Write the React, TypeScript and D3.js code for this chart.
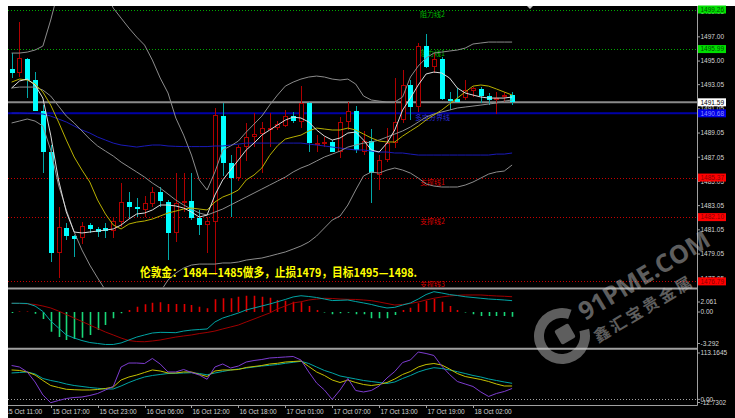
import React, { useEffect, useRef } from "react";
import * as d3 from "d3";

const WIDTH = 735;
const HEIGHT = 418;

// hourly gold bars, first visible bar is 15 Oct 12:00
const opens = [
  1494.31, 1493.98, 1495.17, 1493.43, 1490.89, 1487.5, 1479.16, 1481.22, 1480.54, 1480.35,
  1481.42, 1481.12, 1481.17, 1480.95, 1481.72, 1483.37, 1482.96, 1482.69, 1483.18, 1484.15,
  1483.37, 1480.76, 1483.24, 1483.43, 1482.0, 1481.45, 1481.72, 1490.45, 1486.6, 1485.31,
  1487.87, 1488.74, 1488.97, 1489.36, 1489.44, 1489.65, 1490.48, 1489.98, 1491.55, 1488.14,
  1488.22, 1488.28, 1487.5, 1489.98, 1490.87, 1487.5, 1488.39, 1485.58, 1486.82, 1488.2,
  1490.12, 1493.02, 1491.22, 1496.24, 1494.53, 1495.14, 1491.86, 1491.84, 1491.92, 1492.55,
  1492.69, 1492.13, 1491.78, 1492.0, 1492.19,
];
const highs = [
  1495.69, 1498.25, 1495.25, 1494.12, 1491.36, 1488.06, 1482.96, 1481.61, 1480.62, 1481.72,
  1481.64, 1481.31, 1481.61, 1482.13, 1484.89, 1484.2, 1483.68, 1483.84, 1484.61, 1484.61,
  1483.51, 1485.72, 1485.72, 1485.72, 1482.69, 1482.13, 1491.09, 1491.5, 1487.2, 1488.06,
  1489.85, 1490.68, 1489.98, 1490.68, 1490.04, 1490.95, 1490.81, 1492.93, 1491.64, 1488.88,
  1488.74, 1488.47, 1490.4, 1491.64, 1491.28, 1489.22, 1489.36, 1487.23, 1489.44, 1493.57,
  1494.26, 1493.43, 1496.46, 1497.23, 1495.64, 1495.36, 1492.46, 1492.74, 1493.43, 1492.88,
  1492.88, 1492.33, 1492.46, 1492.46, 1492.46,
];
const lows = [
  1493.6, 1493.7, 1491.94, 1490.85, 1485.77, 1478.41, 1477.04, 1480.21, 1478.83, 1479.88,
  1480.76, 1480.48, 1480.35, 1480.35, 1481.31, 1482.0, 1482.13, 1482.13, 1482.96, 1482.96,
  1478.55, 1480.07, 1482.55, 1481.86, 1480.62, 1479.11, 1477.3, 1485.5, 1482.13, 1485.1,
  1486.7, 1487.87, 1485.72, 1487.92, 1489.3, 1489.57, 1489.85, 1489.44, 1487.5, 1487.5,
  1487.92, 1487.45, 1486.96, 1489.3, 1487.42, 1487.23, 1483.24, 1484.34, 1486.68, 1487.79,
  1489.85, 1490.12, 1490.81, 1494.4, 1493.98, 1491.78, 1490.95, 1491.6, 1491.78, 1492.05,
  1491.5, 1491.36, 1490.6, 1491.64, 1491.36,
];
const closes = [
  1493.98, 1495.22, 1493.43, 1490.89, 1487.5, 1479.11, 1481.26, 1480.54, 1480.29, 1481.36,
  1481.12, 1480.84, 1480.95, 1481.78, 1483.37, 1482.96, 1482.74, 1483.24, 1484.15, 1483.45,
  1480.76, 1483.29, 1483.43, 1482.0, 1481.45, 1481.8, 1490.54, 1486.6, 1485.31, 1487.87,
  1488.74, 1488.97, 1489.44, 1489.49, 1489.77, 1490.48, 1490.04, 1491.55, 1488.25, 1488.25,
  1488.33, 1487.5, 1489.98, 1490.89, 1487.65, 1488.39, 1485.72, 1486.82, 1488.2, 1489.98,
  1493.02, 1491.22, 1496.24, 1494.53, 1495.17, 1491.86, 1491.72, 1491.64, 1492.6, 1492.74,
  1492.13, 1491.78, 1491.92, 1492.19, 1491.59,
];

// bollinger bands (gray)
const bbUpper = [
  1495.66, 1495.66, 1495.74, 1495.91, 1496.24, 1498.39, 1500.87, 1502.52, 1503.35, 1503.35,
  1502.93, 1502.11, 1500.7, 1499.38, 1498.55, 1497.73, 1496.98, 1496.32, 1495.08, 1493.6,
  1492.36, 1490.29, 1488.88, 1487.23, 1485.17, 1484.34, 1485.83, 1487.65, 1487.98, 1488.39,
  1489.13, 1489.79, 1490.45, 1491.36, 1492.19, 1492.93, 1493.26, 1493.51, 1493.68, 1493.76,
  1493.68, 1493.51, 1493.43, 1493.51, 1493.1, 1492.11, 1491.78, 1491.69, 1491.61, 1491.61,
  1492.03, 1493.68, 1494.59, 1495.25, 1495.66, 1495.74, 1495.83, 1495.91, 1496.07, 1496.41,
  1496.49, 1496.57, 1496.57, 1496.57, 1496.57,
];
const bbMiddle = [
  1492.77, 1492.85, 1492.85, 1492.85, 1492.6, 1492.11, 1491.28, 1490.45, 1489.88, 1489.22,
  1488.55, 1487.98, 1487.56, 1487.15, 1486.65, 1486.24, 1485.83, 1485.41, 1484.92, 1484.5,
  1484.01, 1483.51, 1483.1, 1482.77, 1482.44, 1482.27, 1482.52, 1482.77, 1483.1, 1483.43,
  1483.76, 1484.09, 1484.42, 1484.75, 1485.08, 1485.41, 1485.83, 1486.16, 1486.41, 1486.74,
  1487.07, 1487.31, 1487.56, 1487.89, 1488.06, 1488.22, 1488.31, 1488.47, 1488.72, 1488.97,
  1489.22, 1489.55, 1489.96, 1490.37, 1490.62, 1490.79, 1490.95, 1491.12, 1491.2, 1491.28,
  1491.36, 1491.45, 1491.53, 1491.69, 1491.78,
];
const bbLower = [
  1489.88, 1490.04, 1490.21, 1490.04, 1489.63, 1487.65, 1484.75, 1482.69, 1480.87, 1479.38,
  1478.14, 1477.07, 1476.07, 1475.25, 1474.59, 1474.26, 1474.17, 1474.42, 1475.0, 1475.91,
  1476.9, 1477.48, 1477.89, 1478.14, 1478.22, 1478.22, 1478.22, 1478.31, 1478.31, 1478.39,
  1478.55, 1478.64, 1478.72, 1478.88, 1479.05, 1479.22, 1479.46, 1479.71, 1480.04, 1480.54,
  1481.2, 1481.86, 1482.19, 1483.1, 1484.34, 1485.5, 1485.83, 1485.74, 1485.99, 1486.16,
  1485.99, 1485.74, 1485.33, 1484.84, 1484.67, 1484.59, 1484.59, 1484.59, 1484.75, 1485.0,
  1485.33, 1485.66, 1485.83, 1485.91, 1486.41,
];
// moving averages
const maFast = [
  1492.77, 1493.35, 1493.51, 1493.02, 1491.94, 1488.88, 1485.17, 1482.52, 1480.87, 1480.79,
  1480.87, 1480.95, 1481.03, 1481.12, 1481.45, 1481.94, 1482.36, 1482.44, 1482.69, 1483.1,
  1483.1, 1483.02, 1482.85, 1482.52, 1482.11, 1482.27, 1483.93, 1485.17, 1485.99, 1486.82,
  1487.65, 1488.22, 1488.88, 1489.3, 1489.71, 1490.12, 1490.37, 1490.29, 1489.96, 1489.3,
  1488.8, 1488.47, 1488.64, 1489.05, 1489.13, 1488.47, 1487.65, 1487.48, 1488.22, 1489.3,
  1490.95, 1491.94, 1493.02, 1493.93, 1494.09, 1494.01, 1493.6, 1492.77, 1492.36, 1492.19,
  1492.03, 1491.94, 1491.94, 1491.94, 1492.03,
];
const maSlow = [
  1493.26, 1493.51, 1493.43, 1493.1, 1492.44, 1491.36, 1489.96, 1488.47, 1487.07, 1485.99,
  1485.0, 1483.51, 1482.36, 1481.45, 1481.12, 1481.53, 1481.69, 1481.78, 1481.94, 1482.19,
  1482.44, 1482.6, 1482.77, 1482.85, 1482.77, 1482.69, 1483.35, 1483.76, 1484.01, 1484.34,
  1485.17, 1485.58, 1486.16, 1487.2, 1488.0, 1488.55, 1488.72, 1488.88, 1489.22, 1489.46,
  1489.38, 1489.3, 1489.3, 1489.46, 1489.3, 1488.97, 1488.64, 1488.39, 1488.31, 1488.31,
  1488.8, 1489.22, 1489.63, 1490.12, 1490.54, 1490.95, 1491.45, 1491.94, 1492.44, 1492.93,
  1493.02, 1492.93, 1492.69, 1492.44, 1492.19,
];
const maLong = [
  1490.7, 1490.7, 1490.68, 1490.66, 1490.62, 1490.45, 1490.21, 1489.96, 1489.63, 1489.3,
  1489.05, 1488.72, 1488.47, 1488.22, 1488.06, 1487.98, 1487.89, 1487.98, 1488.06, 1488.06,
  1487.98, 1487.95, 1487.93, 1487.93, 1487.93, 1487.93, 1487.98, 1487.98, 1488.06, 1488.14,
  1488.22, 1488.22, 1488.22, 1488.22, 1488.22, 1488.22, 1488.22, 1488.22, 1488.14, 1488.06,
  1487.98, 1487.89, 1487.81, 1487.73, 1487.65, 1487.65, 1487.56, 1487.48, 1487.48, 1487.4,
  1487.4, 1487.31, 1487.23, 1487.23, 1487.23, 1487.23, 1487.23, 1487.23, 1487.23, 1487.23,
  1487.23, 1487.23, 1487.31, 1487.31, 1487.4,
];

// MACD
const macdHist = [
  -0.1, 0.05, 0.05, -0.15, -0.64, -1.8, -2.29, -2.56, -2.47, -2.35,
  -2.1, -1.65, -1.19, -0.57, -0.12, 0.19, 0.49, 0.71, 0.85, 0.89,
  0.73, 0.73, 0.73, 0.64, 0.49, 0.34, 1.16, 1.26, 1.26, 1.4,
  1.49, 1.49, 1.4, 1.31, 1.1, 1.04, 0.95, 0.89, 0.55, 0.19,
  -0.04, -0.21, -0.12, -0.06, -0.21, -0.21, -0.57, -0.57, -0.57, -0.27,
  0.19, 0.4, 0.8, 1.04, 1.19, 0.95, 0.55, 0.19, -0.04, -0.21,
  -0.36, -0.36, -0.36, -0.36, -0.43,
];
const macdMain = [
  0.8, 0.8, 0.78, 0.55, 0.05, -0.82, -1.46, -2.1, -2.38, -2.61,
  -2.79, -2.88, -2.97, -2.97, -2.83, -2.56, -2.29, -2.1, -1.92, -1.86,
  -1.87, -1.89, -1.74, -1.65, -1.6, -1.55, -0.91, -0.55, -0.32, -0.09,
  0.19, 0.37, 0.55, 0.73, 0.94, 1.15, 1.38, 1.49, 1.42, 1.33,
  1.19, 1.05, 1.07, 1.1, 0.96, 0.83, 0.69, 0.51, 0.37, 0.43,
  0.64, 0.83, 1.19, 1.6, 1.86, 1.74, 1.6, 1.51, 1.4, 1.33,
  1.26, 1.19, 1.15, 1.1, 1.04,
];
const macdSignal = [
  0.8, 0.78, 0.75, 0.69, 0.55, 0.37, 0.09, -0.23, -0.55, -0.87,
  -1.19, -1.51, -1.83, -2.1, -2.38, -2.61, -2.7, -2.72, -2.65, -2.56,
  -2.42, -2.29, -2.19, -2.1, -1.97, -1.87, -1.74, -1.55, -1.37, -1.19,
  -0.91, -0.64, -0.36, -0.09, 0.28, 0.55, 0.83, 0.94, 1.1, 1.19,
  1.26, 1.24, 1.19, 1.16, 1.15, 1.1, 1.04, 0.92, 0.78, 0.64,
  0.69, 0.78, 0.92, 1.1, 1.26, 1.38, 1.47, 1.53, 1.56, 1.56,
  1.56, 1.51, 1.47, 1.44, 1.4,
];

// KDJ
const kdjJ = [
  76.9, 73.5, 62.2, 39.5, 10.0, -7.5, -2.5, 2.0, 4.3, 5.4,
  8.8, 13.4, 21.3, 29.3, 73.5, 82.5, 82.5, 81.4, 92.8, 80.3,
  62.2, 62.2, 67.8, 61.0, 55.3, 45.6, 73.5, 80.3, 71.2, 75.7,
  84.8, 88.2, 90.5, 93.9, 95.0, 96.2, 97.3, 89.4, 62.2, 37.2,
  21.3, -0.2, 21.3, 47.4, 20.2, 16.8, 20.2, 30.4, 48.5, 63.3,
  83.7, 89.4, 107.5, 104.1, 99.6, 75.7, 56.5, 40.6, 34.9, 29.3,
  16.8, 6.6, 13.4, 17.9, 24.7,
];
const kdjK = [
  66.7, 65.6, 62.2, 55.3, 42.9, 31.5, 27.0, 22.9, 22.0, 21.3,
  21.3, 22.4, 24.7, 28.1, 44.0, 50.8, 55.3, 61.0, 66.7, 64.4,
  59.9, 59.9, 62.2, 62.2, 56.5, 51.9, 64.4, 66.7, 66.7, 67.8,
  72.4, 74.6, 76.9, 80.3, 81.9, 84.8, 85.9, 87.1, 74.6, 62.2,
  54.2, 44.0, 38.3, 44.0, 38.3, 33.8, 31.5, 33.8, 38.3, 46.3,
  56.5, 63.3, 73.5, 79.1, 81.4, 78.0, 68.9, 58.7, 51.9, 48.5,
  45.1, 40.6, 34.9, 30.4, 30.4,
];
const kdjD = [
  59.9, 61.0, 62.2, 57.6, 47.4, 42.9, 39.5, 34.9, 31.5, 29.3,
  27.0, 25.2, 23.6, 23.6, 30.4, 38.3, 45.1, 50.8, 54.2, 56.5,
  58.7, 59.2, 59.9, 60.5, 58.7, 55.8, 59.9, 63.3, 66.7, 68.9,
  71.2, 73.5, 75.7, 77.3, 79.1, 81.9, 84.1, 86.4, 81.4, 73.5,
  65.6, 59.9, 53.1, 49.7, 46.3, 42.9, 40.6, 38.3, 36.1, 39.5,
  47.4, 54.2, 62.2, 67.8, 71.9, 70.1, 66.7, 62.8, 58.7, 54.2,
  50.8, 46.3, 42.9, 39.5, 36.5,
];

const timeTickBars = [-1, 5, 11, 17, 23, 29, 35, 41, 47, 53, 59];
const timeTickLabels = [
  "15 Oct 11:00", "15 Oct 17:00", "15 Oct 23:00", "16 Oct 06:00", "16 Oct 12:00",
  "16 Oct 18:00", "17 Oct 01:00", "17 Oct 07:00", "17 Oct 13:00", "17 Oct 19:00", "18 Oct 02:00",
];

const priceTicks = [1499.05, 1497.0, 1495.0, 1493.05, 1491.05, 1489.05, 1487.05, 1485.05, 1483.05, 1481.05, 1479.05, 1477.05];
const priceMin = 1476.3;
const priceMax = 1499.55;

const levelValues = [1499.26, 1495.99, 1485.37, 1482.1, 1476.79];
const levelNames = ["阻力线2", "阻力线1", "支撑线1", "支撑线2", "支撑线3"];
const levelKinds = ["resist", "resist", "support", "support", "support"];
const pivotValue = 1490.68;
const pivotName = "多空分界线";
const lastPrice = 1491.59;

const macdMax = 2.061;
const macdMin = -3.292;
const kdjMax = 113.1645;
const kdjMin = -12.7302;

const note = "伦敦金：1484—1485做多，止损1479，目标1495—1498.";

const App: React.FC = () => {
  const svgRef = useRef<SVGSVGElement | null>(null);

  useEffect(() => {
    if (!svgRef.current) return;
    const svg = d3.select(svgRef.current);
    svg.selectAll("*").remove();

    const plotL = 8;
    const plotT = 6;
    const axisX = 697.5;
    const mainB = 287.3;
    const macdT = 289.5;
    const macdB = 348;
    const kdjT = 349.5;
    const kdjB = 405;

    const n = closes.length;
    const x = d3.scaleLinear().domain([0, n - 1]).range([11.6, 512.1]);
    const yP = d3.scaleLinear().domain([priceMin, priceMax]).range([mainB, plotT]);
    const yM = d3.scaleLinear().domain([macdMin, macdMax]).range([macdB, macdT]);
    const yK = d3.scaleLinear().domain([kdjMin, kdjMax]).range([kdjB, kdjT]);

    const axisFont = "'Liberation Sans', Arial, sans-serif";
    const cjkFont = "'Noto Sans CJK SC', sans-serif";
    const axisColor = "#d4d4d4";

    svg.append("rect").attr("width", WIDTH).attr("height", HEIGHT).attr("fill", "#fff");
    svg
      .append("rect")
      .attr("x", plotL)
      .attr("y", plotT)
      .attr("width", WIDTH - plotL)
      .attr("height", HEIGHT - plotT)
      .attr("fill", "#000");

    const defs = svg.append("defs");
    const addClip = (id: string, y0: number, y1: number) =>
      defs
        .append("clipPath")
        .attr("id", id)
        .append("rect")
        .attr("x", plotL)
        .attr("y", y0)
        .attr("width", axisX - plotL)
        .attr("height", y1 - y0);
    addClip("clip-main", plotT, mainB);
    addClip("clip-macd", macdT, macdB);
    addClip("clip-kdj", kdjT, kdjB);
    defs
      .append("clipPath")
      .attr("id", "clip-x")
      .append("rect")
      .attr("x", plotL)
      .attr("y", kdjB)
      .attr("width", WIDTH - plotL)
      .attr("height", HEIGHT - kdjB);

    const crisp = (v: number) => Math.round(v) + 0.5;

    // ---------- main panel ----------
    const main = svg.append("g").attr("clip-path", "url(#clip-main)");

    levelValues.forEach((v, k) => {
      const resist = levelKinds[k] === "resist";
      const yy = crisp(yP(v));
      main
        .append("line")
        .attr("x1", plotL)
        .attr("x2", axisX)
        .attr("y1", yy)
        .attr("y2", yy)
        .attr("stroke", resist ? "#00a800" : "#c80000")
        .attr("stroke-dasharray", "1,2");
      main
        .append("text")
        .attr("x", 420)
        .attr("y", Math.min(yy + 6.5, mainB - 0.3))
        .attr("font-family", cjkFont)
        .attr("font-size", 7)
        .attr("fill", resist ? "#00b800" : "#d80000")
        .text(levelNames[k]);
    });

    // last price and pivot lines
    main
      .append("line")
      .attr("x1", plotL)
      .attr("x2", axisX)
      .attr("y1", yP(lastPrice))
      .attr("y2", yP(lastPrice))
      .attr("stroke", "#8a8a8a")
      .attr("stroke-width", 2);
    main
      .append("line")
      .attr("x1", plotL)
      .attr("x2", axisX)
      .attr("y1", yP(pivotValue))
      .attr("y2", yP(pivotValue))
      .attr("stroke", "#0000a8")
      .attr("stroke-width", 2);
    main
      .append("text")
      .attr("x", 415)
      .attr("y", yP(pivotValue) + 6.5)
      .attr("font-family", cjkFont)
      .attr("font-size", 7)
      .attr("fill", "#2a2ad8")
      .text(pivotName);

    // candles
    const idx = d3.range(n);
    const bull = (i: number) => closes[i] >= opens[i];
    main
      .selectAll("line.wick")
      .data(idx)
      .join("line")
      .attr("class", "wick")
      .attr("x1", (i) => crisp(x(i)))
      .attr("x2", (i) => crisp(x(i)))
      .attr("y1", (i) => Math.round(yP(highs[i])))
      .attr("y2", (i) => Math.round(yP(lows[i])))
      .attr("stroke", (i) => (bull(i) ? "#b00000" : "#00a8a8"));
    main
      .selectAll("rect.body")
      .data(idx)
      .join("rect")
      .attr("class", "body")
      .attr("x", (i) => (bull(i) ? Math.round(x(i)) - 1.5 : Math.round(x(i)) - 2))
      .attr("width", (i) => (bull(i) ? 4 : 5))
      .attr("y", (i) => {
        const top = Math.round(yP(Math.max(opens[i], closes[i])));
        return bull(i) ? top + 0.5 : top;
      })
      .attr("height", (i) => {
        const h = Math.round(yP(Math.min(opens[i], closes[i]))) - Math.round(yP(Math.max(opens[i], closes[i])));
        return bull(i) ? Math.max(1, h - 1) : Math.max(1, h);
      })
      .attr("fill", (i) => (bull(i) ? "#000" : "#00ffff"))
      .attr("stroke", (i) => (bull(i) ? "#b00000" : "none"));

    const linePath = (vals: number[], ys: d3.ScaleLinear<number, number>) =>
      d3
        .line<number>()
        .x((_, i) => x(i))
        .y((d) => ys(d))(vals);

    const mainLines: [number[], string][] = [
      [maLong, "#1a1ab8"],
      [bbUpper, "#8c8c8c"],
      [bbLower, "#8c8c8c"],
      [bbMiddle, "#8c8c8c"],
      [maSlow, "#b8b000"],
      [maFast, "#dcdcdc"],
    ];
    mainLines.forEach(([vals, color]) => {
      main
        .append("path")
        .attr("d", linePath(vals, yP))
        .attr("fill", "none")
        .attr("stroke", color)
        .attr("stroke-width", 1);
    });

    main
      .append("text")
      .attr("x", 140)
      .attr("y", 277)
      .attr("font-family", cjkFont)
      .attr("font-weight", "bold")
      .attr("font-size", 12)
      .attr("fill", "#ffff00")
      .attr("textLength", 277)
      .attr("lengthAdjust", "spacingAndGlyphs")
      .text(note);

    // ---------- MACD panel ----------
    const macd = svg.append("g").attr("clip-path", "url(#clip-macd)");
    macd
      .selectAll("line.hist")
      .data(idx)
      .join("line")
      .attr("class", "hist")
      .attr("x1", (i) => Math.round(x(i)) + 0.5)
      .attr("x2", (i) => Math.round(x(i)) + 0.5)
      .attr("y1", yM(0))
      .attr("y2", (i) => yM(macdHist[i]))
      .attr("stroke", (i) => (macdHist[i] >= 0 ? "#e00000" : "#18d878"))
      .attr("stroke-width", 1.6);
    macd
      .append("path")
      .attr("d", linePath(macdSignal, yM))
      .attr("fill", "none")
      .attr("stroke", "#a00000");
    macd
      .append("path")
      .attr("d", linePath(macdMain, yM))
      .attr("fill", "none")
      .attr("stroke", "#00a4a4");

    // ---------- KDJ panel ----------
    const kdj = svg.append("g").attr("clip-path", "url(#clip-kdj)");
    kdj
      .append("line")
      .attr("x1", plotL)
      .attr("x2", axisX)
      .attr("y1", crisp(yK(0)))
      .attr("y2", crisp(yK(0)))
      .attr("stroke", "#a0a0a0")
      .attr("stroke-dasharray", "1,2");
    const kdjLines: [number[], string][] = [
      [kdjD, "#00a4a4"],
      [kdjK, "#c4c000"],
      [kdjJ, "#7d3cd0"],
    ];
    kdjLines.forEach(([vals, color]) => {
      kdj
        .append("path")
        .attr("d", linePath(vals, yK))
        .attr("fill", "none")
        .attr("stroke", color);
    });

    // ---------- frame ----------
    const frame = svg.append("g").attr("stroke", "#a0a0a0");
    frame.append("line").attr("x1", plotL).attr("x2", axisX).attr("y1", 288.4).attr("y2", 288.4).attr("stroke-width", 2);
    frame.append("line").attr("x1", plotL).attr("x2", axisX).attr("y1", 348.8).attr("y2", 348.8).attr("stroke-width", 2);
    frame.append("line").attr("x1", plotL).attr("x2", axisX).attr("y1", kdjB + 0.5).attr("y2", kdjB + 0.5);
    frame.append("line").attr("x1", axisX).attr("x2", axisX).attr("y1", plotT).attr("y2", kdjB + 0.5);

    // shift marker
    svg
      .append("path")
      .attr("d", "M527,6 L533,6 L530,9 Z")
      .attr("fill", "#c8c8c8");

    // ---------- right axis ----------
    const axis = svg.append("g").attr("font-family", axisFont).attr("font-size", 6.5);
    const addAxisLabel = (yy: number, label: string) => {
      axis.append("line").attr("x1", axisX).attr("x2", axisX + 2.5).attr("y1", yy).attr("y2", yy).attr("stroke", "#a0a0a0");
      axis
        .append("text")
        .attr("x", 700.5)
        .attr("y", yy)
        .attr("dy", "0.35em")
        .attr("fill", axisColor)
        .text(label);
    };
    priceTicks.forEach((p) => addAxisLabel(yP(p), p.toFixed(2)));
    addAxisLabel(yM(macdMax) + 12.5, String(macdMax));
    addAxisLabel(yM(0), "0.00");
    addAxisLabel(yM(macdMin) - 4.5, String(macdMin));
    addAxisLabel(yK(kdjMax) + 3.5, String(kdjMax));
    addAxisLabel(yK(0), "0.00");
    addAxisLabel(yK(kdjMin) - 2.5, String(kdjMin));

    const addBox = (v: number, bg: string, fg: string) => {
      const yy = yP(v);
      axis.append("rect").attr("x", 698).attr("y", yy - 4).attr("width", 28).attr("height", 8).attr("fill", bg);
      axis
        .append("text")
        .attr("x", 700.5)
        .attr("y", yy)
        .attr("dy", "0.35em")
        .attr("fill", fg)
        .text(v.toFixed(2));
    };
    levelValues.forEach((v, k) =>
      levelKinds[k] === "resist" ? addBox(v, "#00e000", "#005000") : addBox(v, "#ff0000", "#8a0000")
    );
    addBox(lastPrice, "#ffffff", "#000000");
    addBox(pivotValue, "#0000e8", "#9090ff");

    // ---------- time axis ----------
    const xa = svg.append("g").attr("clip-path", "url(#clip-x)").attr("font-family", axisFont).attr("font-size", 6.5);
    timeTickBars.forEach((b, k) => {
      const xx = crisp(x(b));
      xa.append("line").attr("x1", xx).attr("x2", xx).attr("y1", kdjB).attr("y2", kdjB + 3).attr("stroke", "#a0a0a0");
      xa.append("text").attr("x", xx + 1).attr("y", 413.5).attr("fill", axisColor).text(timeTickLabels[k]);
    });

    // ---------- watermark ----------
    const wm = svg.append("g").attr("opacity", 0.45);
    const ring = d3
      .arc<any>()
      .innerRadius(18)
      .outerRadius(28)
      .startAngle((75 * Math.PI) / 180)
      .endAngle((380 * Math.PI) / 180);
    wm.append("path").attr("transform", "translate(562,336)").attr("d", ring({}) as string).attr("fill", "#d0d0d0");
    wm
      .append("rect")
      .attr("x", -8)
      .attr("y", -8)
      .attr("width", 16)
      .attr("height", 16)
      .attr("rx", 2)
      .attr("transform", "translate(565,334) rotate(-30)")
      .attr("fill", "#d0d0d0");
    wm
      .append("text")
      .attr("transform", "translate(585,321) rotate(-31)")
      .attr("font-family", "'Open Sans', sans-serif")
      .attr("font-weight", "bold")
      .attr("font-size", 25)
      .attr("fill", "#d0d0d0")
      .text("91PME.COM");
    wm
      .append("text")
      .attr("transform", "translate(598,343) rotate(-31)")
      .attr("font-family", cjkFont)
      .attr("font-weight", "bold")
      .attr("font-size", 16)
      .attr("letter-spacing", 3)
      .attr("fill", "#d0d0d0")
      .text("鑫汇宝贵金属");
  }, []);

  return (
    <svg
      ref={svgRef}
      width={WIDTH}
      height={HEIGHT}
      style={{ position: "absolute", left: 0, top: 0, display: "block" }}
    />
  );
};

export default App;
